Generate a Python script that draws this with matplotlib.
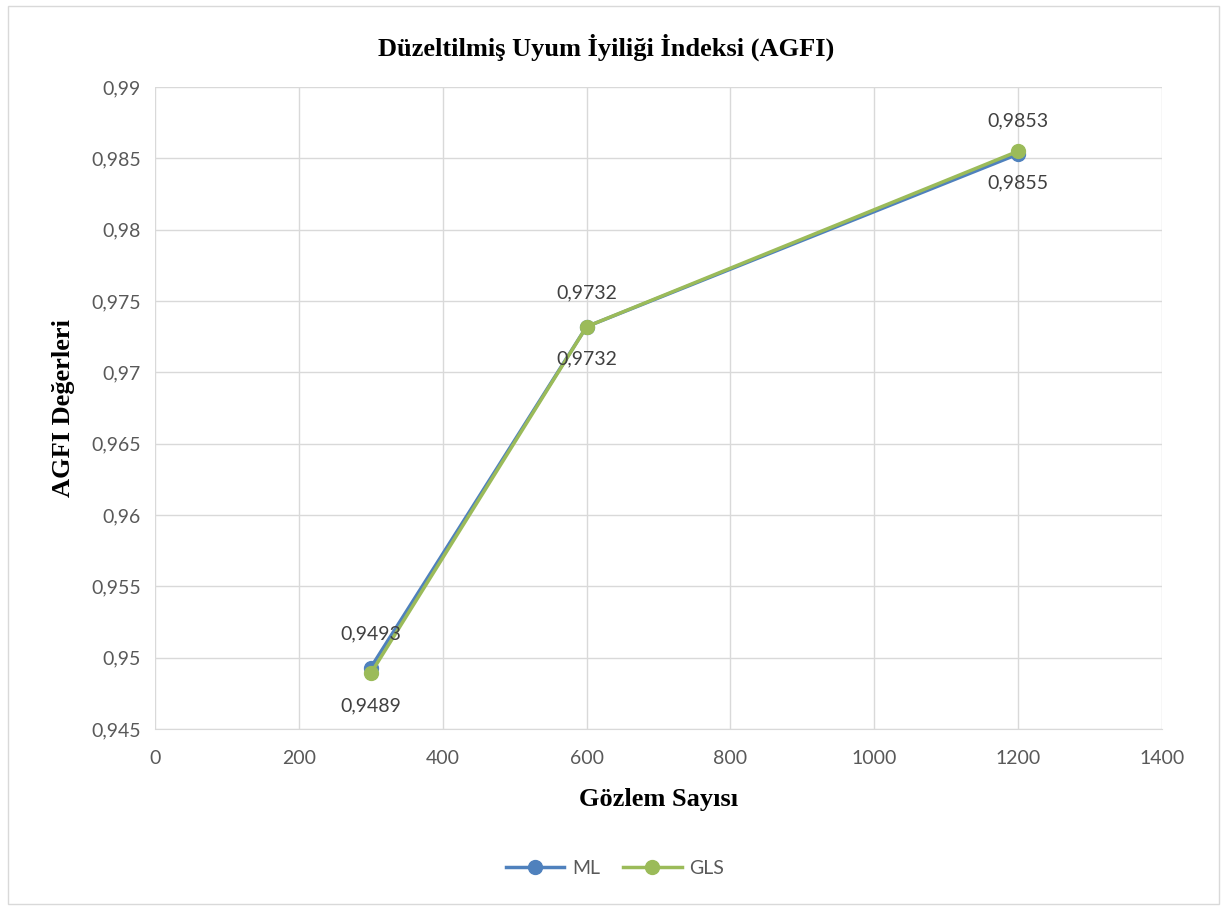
import matplotlib
matplotlib.use("Agg")
import matplotlib.pyplot as plt
from matplotlib.patches import Rectangle
from matplotlib.ticker import FuncFormatter

x_vals = [300, 600, 1200]
ml_vals = [0.9493, 0.9732, 0.9853]
gls_vals = [0.9489, 0.9732, 0.9855]
ml_labels = ["0,9493", "0,9732", "0,9853"]
gls_labels = ["0,9489", "0,9732", "0,9855"]
title = "Düzeltilmiş Uyum İyiliği İndeksi (AGFI)"
xlabel = "Gözlem Sayısı"
ylabel = "AGFI Değerleri"

ML_C = "#4F81BD"
GLS_C = "#9BBB59"
TXT = "#595959"
UI = ["Lato", "DejaVu Sans"]
SERIF = ["Liberation Serif", "DejaVu Serif"]

fig = plt.figure(figsize=(12.3, 9.09), dpi=100)
fig.patches.append(Rectangle((8/1230, 1-904/909), 1211/1230, 898/909, transform=fig.transFigure,
                             fill=False, edgecolor="#D9D9D9", linewidth=1))
ax = fig.add_axes([155/1230, 1-729/909, (1162-155)/1230, (729-87)/909])

ax.plot(x_vals, ml_vals, color=ML_C, lw=2.5, marker="o", ms=10, label="ML", zorder=3)
ax.plot(x_vals, gls_vals, color=GLS_C, lw=2.5, marker="o", ms=10, label="GLS", zorder=4)

for x, y, t in zip(x_vals, ml_vals, ml_labels):
    ax.annotate(t, (x, y), xytext=(0, 18), textcoords="offset points", ha="center", va="bottom",
                fontsize=14, color="#404040", family=UI, zorder=5)
for x, y, t in zip(x_vals, gls_vals, gls_labels):
    ax.annotate(t, (x, y), xytext=(0, -17), textcoords="offset points", ha="center", va="top",
                fontsize=14, color="#404040", family=UI, zorder=5)

ax.set_xlim(0, 1400)
ax.set_ylim(0.945, 0.99)
ax.set_xticks(range(0, 1401, 200))
ax.set_yticks([0.945 + 0.005*i for i in range(10)])
ax.yaxis.set_major_formatter(FuncFormatter(lambda v, p: f"{v:.3f}".rstrip("0").rstrip(".").replace(".", ",")))
ax.grid(True, color="#D9D9D9", lw=1)
ax.set_axisbelow(True)
for s in ["top", "right", "left"]:
    ax.spines[s].set_visible(False)
ax.spines["bottom"].set_color("#D9D9D9")
ax.tick_params(length=0, labelsize=14, labelcolor=TXT)
ax.tick_params(axis="x", pad=15)
ax.tick_params(axis="y", pad=10)
for lab in ax.get_xticklabels() + ax.get_yticklabels():
    lab.set_family(UI)

fig.text(606/1230, 1-47/909, title, fontsize=19, fontweight="bold", family=SERIF,
         ha="center", va="center")
ax.set_xlabel(xlabel, fontsize=19, fontweight="bold", family=SERIF, labelpad=15)
ax.set_ylabel(ylabel, fontsize=19, fontweight="bold", family=SERIF, labelpad=12)

leg = fig.legend(loc="center", bbox_to_anchor=(615/1230, 1-868/909), ncol=2, frameon=False,
                 prop={"family": UI, "size": 14}, handlelength=3, columnspacing=1.2, handletextpad=0.4)
for t in leg.get_texts():
    t.set_color(TXT)

fig.savefig("out.png", dpi=100)
